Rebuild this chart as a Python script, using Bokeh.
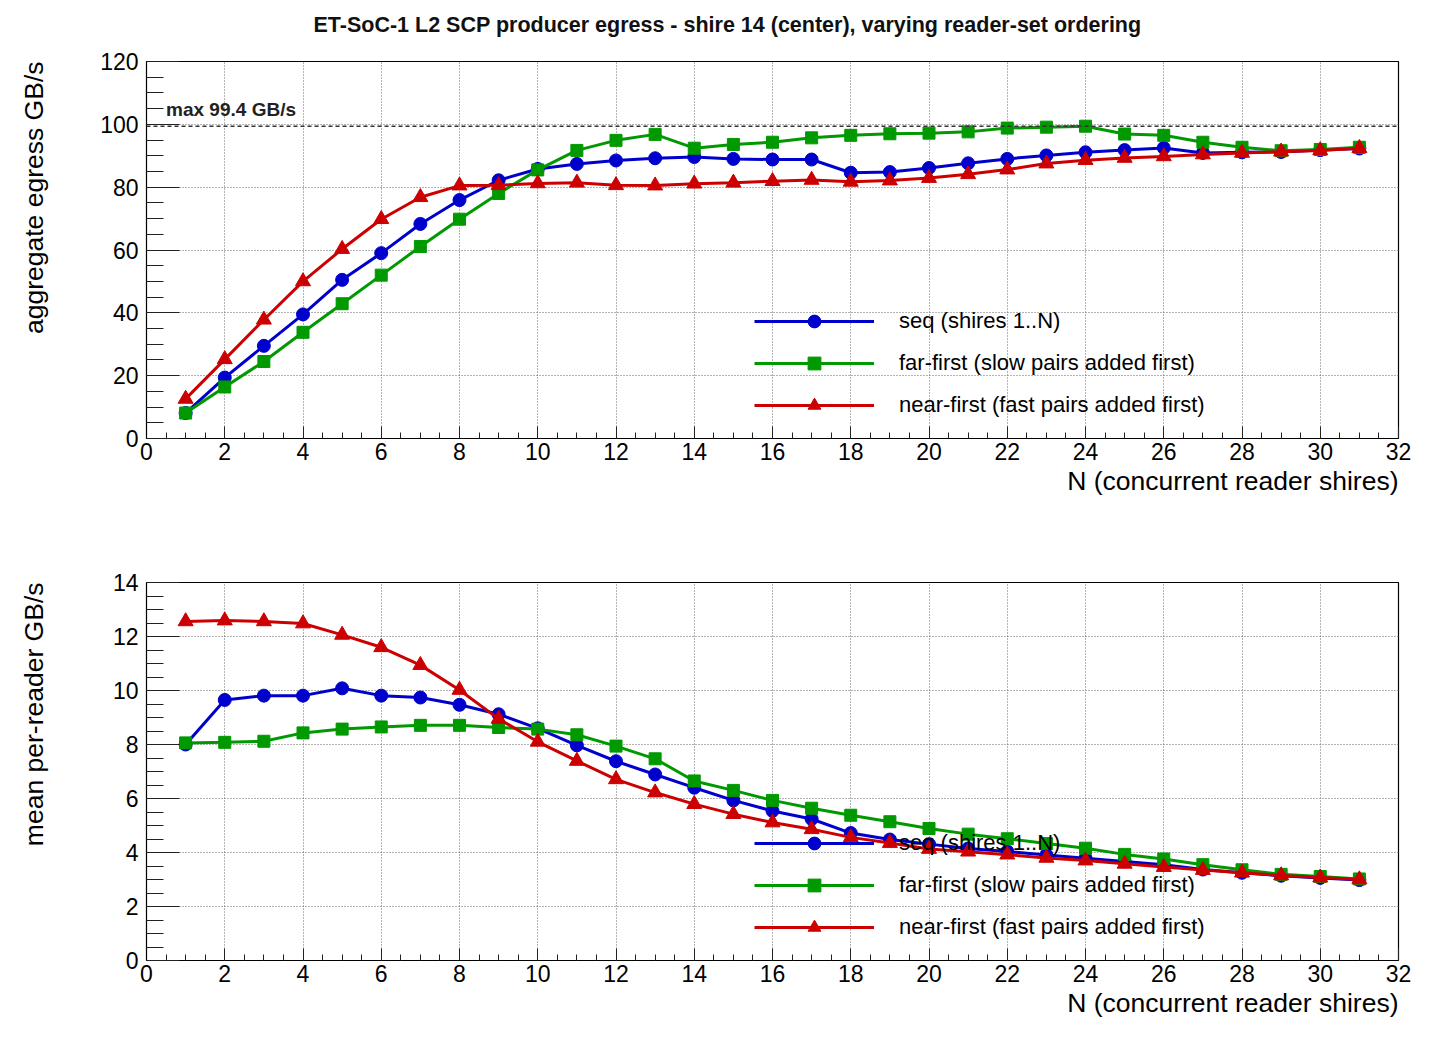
from bokeh.plotting import figure
from bokeh.models import (SingleIntervalTicker, Range1d, Legend, LegendItem, Span,
                          Label, ColumnDataSource, Title)
from bokeh.layouts import column
from bokeh.embed import file_html
from bokeh.resources import INLINE

# ---------------- data ----------------
N = list(range(1, 32))

agg_seq = [8.1, 19.4, 29.5, 39.5, 50.5, 59.0, 68.3, 75.9, 82.2, 85.8,
           87.4, 88.5, 89.2, 89.6, 89.0, 88.8, 88.8, 84.6, 84.8, 86.1,
           87.6, 89.0, 90.1, 91.1, 91.8, 92.5, 90.9, 91.1, 91.2, 91.8, 92.3]
agg_far = [8.1, 16.4, 24.5, 33.8, 42.9, 52.0, 61.1, 69.8, 78.0, 85.5,
           91.7, 94.9, 96.8, 92.4, 93.6, 94.3, 95.7, 96.5, 97.0, 97.2,
           97.6, 98.8, 99.1, 99.4, 96.9, 96.5, 94.3, 92.7, 91.6, 92.0, 92.7]
agg_near = [12.6, 25.2, 37.8, 50.0, 60.3, 69.8, 76.8, 80.5, 80.6, 81.2,
            81.4, 80.6, 80.5, 81.1, 81.4, 81.9, 82.3, 81.7, 82.1, 82.9,
            84.1, 85.6, 87.5, 88.6, 89.3, 89.8, 90.4, 90.9, 91.3, 91.7, 92.4]

per_seq = [8.0, 9.65, 9.81, 9.81, 10.08, 9.81, 9.74, 9.47, 9.12, 8.6,
           7.97, 7.38, 6.89, 6.40, 5.93, 5.54, 5.24, 4.72, 4.48, 4.31,
           4.15, 4.04, 3.91, 3.79, 3.67, 3.55, 3.37, 3.25, 3.14, 3.06, 2.98]
per_far = [8.06, 8.08, 8.12, 8.43, 8.57, 8.65, 8.71, 8.71, 8.63, 8.57,
           8.36, 7.94, 7.47, 6.65, 6.30, 5.93, 5.64, 5.38, 5.14, 4.89,
           4.68, 4.51, 4.33, 4.16, 3.93, 3.76, 3.55, 3.36, 3.19, 3.11, 3.02]
per_near = [12.56, 12.59, 12.56, 12.48, 12.06, 11.6, 10.94, 10.02, 8.95, 8.1,
            7.39, 6.71, 6.22, 5.79, 5.42, 5.11, 4.86, 4.56, 4.35, 4.13,
            4.03, 3.92, 3.80, 3.70, 3.58, 3.46, 3.35, 3.25, 3.15, 3.07, 3.0]

series_labels = ["seq (shires 1..N)",
                 "far-first (slow pairs added first)",
                 "near-first (fast pairs added first)"]
series_colors = ["#0000cc", "#009900", "#cc0000"]
series_markers = ["circle", "square", "triangle"]
series_sizes = [13, 12, 15]

max_agg = 99.4
title_text = "ET-SoC-1 L2 SCP producer egress  -  shire 14 (center), varying reader-set ordering"
xlabel = "N (concurrent reader shires)"
XMAX = 32

FONT = "Liberation Sans"


def make_panel(series, ymax, yint, ylabel, ylabel_gap, border_top, border_bottom, frame_h):
    p = figure(frame_width=1252, frame_height=frame_h,
               x_range=Range1d(0, XMAX), y_range=Range1d(0, ymax),
               output_backend="svg", toolbar_location=None,
               min_border_left=146, min_border_right=50,
               min_border_top=border_top, min_border_bottom=border_bottom,
               background_fill_color="white", border_fill_color="white")
    p.outline_line_color = "black"
    p.outline_line_width = 1.2

    p.xaxis.ticker = SingleIntervalTicker(interval=2, num_minor_ticks=4)
    p.yaxis.ticker = SingleIntervalTicker(interval=yint, num_minor_ticks=4)
    for ax in (p.xaxis[0], p.yaxis[0]):
        ax.major_tick_out = 0
        ax.minor_tick_out = 0
        ax.axis_line_color = "black"
        ax.major_tick_line_color = "#222222"
        ax.minor_tick_line_color = "#222222"
        ax.major_label_text_font = FONT
        ax.major_label_text_font_size = "23px"
        ax.major_label_text_color = "black"
    p.xaxis.major_tick_in = 12
    p.xaxis.minor_tick_in = 6
    p.yaxis.major_tick_in = 33
    p.yaxis.minor_tick_in = 17
    p.xaxis.major_label_standoff = 4
    p.yaxis.major_label_standoff = 8
    # blank spacer between the tick labels and the y title
    p.yaxis.axis_label = " "
    p.yaxis.axis_label_text_font_size = "2px"
    p.yaxis.axis_label_standoff = ylabel_gap

    for g in (p.xgrid[0], p.ygrid[0]):
        g.grid_line_color = "#666666"
        g.grid_line_dash = "1 2"
        g.grid_line_width = 1

    items = []
    for vals, lab, col, mk, sz in zip(series, series_labels, series_colors,
                                      series_markers, series_sizes):
        src = ColumnDataSource(dict(x=N, y=vals))
        ln = p.line("x", "y", source=src, line_color=col, line_width=3)
        sc = p.scatter("x", "y", source=src, marker=mk, size=sz,
                       fill_color=col, line_color=col)
        items.append(LegendItem(label=lab, renderers=[ln, sc]))

    leg = Legend(items=items, location=(608, 17), glyph_width=120, glyph_height=32,
                 label_height=32, spacing=10, label_standoff=25, padding=0, margin=0,
                 border_line_alpha=0, background_fill_alpha=0,
                 label_text_font=FONT, label_text_font_size="22px",
                 label_text_color="black")
    p.add_layout(leg)

    # axis titles, ROOT style: placed at the end of the axis
    p.add_layout(Title(text=xlabel, align="right", vertical_align="top", standoff=6,
                       text_font=FONT, text_font_size="26.5px", text_font_style="normal",
                       text_color="black"), "below")
    p.add_layout(Title(text=ylabel, align="right", vertical_align="top", standoff=10,
                       text_font=FONT, text_font_size="26.5px", text_font_style="normal",
                       text_color="black"), "left")
    return p


p1 = make_panel([agg_seq, agg_far, agg_near], 120, 20, "aggregate egress GB/s",
                36, 61, 84, 377)
# spacer between frame and main title
p1.add_layout(Title(text=" ", text_font_size="2px", standoff=20), "above")
p1.add_layout(Title(text=title_text, align="left", offset=167, vertical_align="middle",
                    standoff=0, text_font=FONT, text_font_size="21.5px",
                    text_font_style="bold", text_color="#111111"), "above")
p1.add_layout(Span(location=max_agg, dimension="width", line_color="#333333",
                   line_dash="4 3", line_width=1.5))
p1.add_layout(Label(x=0.5, y=max_agg + 5.4, text=f"max {max_agg} GB/s",
                    text_font=FONT, text_font_size="19px", text_font_style="bold",
                    text_color="#222222", text_baseline="alphabetic"))

p2 = make_panel([per_seq, per_far, per_near], 14, 2, "mean per-reader GB/s",
                49, 60, 75, 378)

layout = column(p1, p2, spacing=0)
open("out.html", "w").write(file_html(layout, INLINE))
